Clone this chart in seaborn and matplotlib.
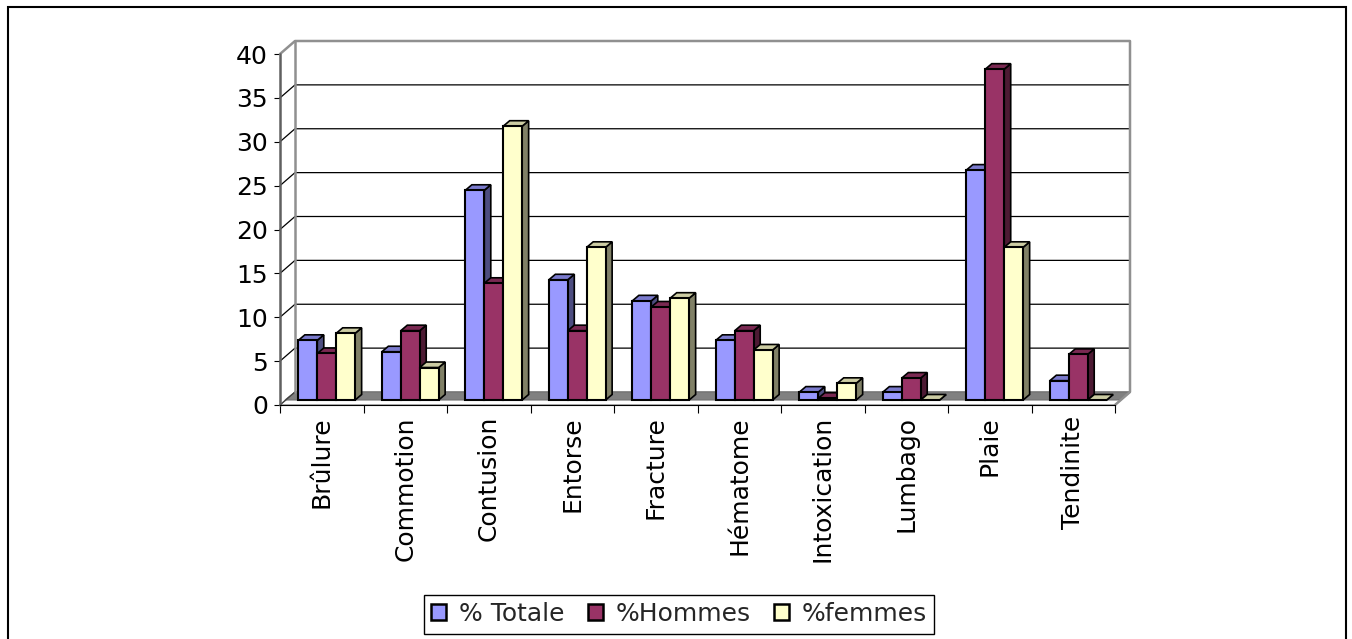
import numpy as np
import pandas as pd
import seaborn as sns
import matplotlib
matplotlib.use("Agg")
import matplotlib.pyplot as plt
from matplotlib.patches import Polygon, Rectangle, Patch
from matplotlib.lines import Line2D
from matplotlib.transforms import IdentityTransform, offset_copy
import matplotlib.colors as mcolors

categories = ["Brûlure", "Commotion", "Contusion", "Entorse", "Fracture",
              "Hématome", "Intoxication", "Lumbago", "Plaie", "Tendinite"]
totale = [6.8, 5.5, 23.9, 13.7, 11.3, 6.8, 0.9, 0.9, 26.2, 2.2]
hommes = [5.3, 7.9, 13.3, 7.9, 10.6, 7.9, 0.2, 2.5, 37.7, 5.2]
femmes = [7.6, 3.7, 31.2, 17.4, 11.6, 5.7, 1.9, 0.0, 17.4, 0.0]
series = ["% Totale", "%Hommes", "%femmes"]
colors = ["#9999FF", "#993366", "#FFFFCC"]
yticks = [0, 5, 10, 15, 20, 25, 30, 35, 40]

sns.set_style("white")
plt.rcParams["font.family"] = ["DejaVu Sans"]

W, H = 1352, 639
fig = plt.figure(figsize=(W / 100, H / 100), dpi=100)
fig.patch.set_facecolor("white")

# front plane of the 3D box (pixels, image coords)
X0, X1, YB, YT = 280, 1115, 405, 54
ax = fig.add_axes([X0 / W, 1 - YB / H, (X1 - X0) / W, (YB - YT) / H])
ax.set_facecolor("none")

df = pd.DataFrame({
    "cat": np.repeat(categories, 3),
    "serie": series * len(categories),
    "val": np.ravel(np.column_stack([totale, hommes, femmes])),
})

sns.barplot(data=df, x="cat", y="val", hue="serie", hue_order=series,
            palette=colors, saturation=1, width=0.68, gap=0,
            edgecolor="black", linewidth=1.5, legend=False, ax=ax)

ax.set_xlim(-0.5, len(categories) - 0.5)
ax.set_ylim(0, 40)
ax.set_yticks(yticks)
ax.set_yticklabels([str(v) for v in yticks])
ax.set_xticks(range(len(categories)))
ax.set_xticklabels(categories, rotation=90)
ax.set_xticks(np.arange(-0.5, len(categories), 1), minor=True)
ax.set_xlabel("")
ax.set_ylabel("")
ax.tick_params(axis="y", which="major", length=4.3, width=0.8, color="black",
               pad=4.5, labelsize=18, direction="out", left=True, labelcolor="black")
ax.tick_params(axis="x", which="major", length=0, pad=8, labelsize=18, labelcolor="black")
ax.tick_params(axis="x", which="minor", length=5.8, width=0.8, color="black",
               direction="out", bottom=True)
for s in ["top", "right"]:
    ax.spines[s].set_visible(False)
ax.spines["left"].set_visible(False)
ax.spines["bottom"].set_color("black")
ax.spines["bottom"].set_linewidth(0.8)
ax.grid(False)

fig.canvas.draw()
T = ax.transData
ID = IdentityTransform()

WX, WY = 15, 13        # wall depth (display px, y up)
FX, FY = 5, 5          # bar front offset
DX, DY = 6.5, 5.5      # bar depth


def add_poly(verts, **kw):
    p = Polygon(verts, closed=True, transform=ID, clip_on=False, **kw)
    ax.add_artist(p)
    return p


def add_line(xs, ys, **kw):
    ln = Line2D(xs, ys, transform=ID, clip_on=False, **kw)
    ax.add_artist(ln)
    return ln


(px0, py0) = T.transform((-0.5, 0))
(px1, py1) = T.transform((len(categories) - 0.5, 40))

# back wall
add_poly([(px0 + WX, py0 + WY), (px1 + WX, py0 + WY), (px1 + WX, py1 + WY), (px0 + WX, py1 + WY)],
         facecolor="white", edgecolor="none", zorder=0.5)
# gridlines
for v in yticks[1:-1]:
    _, py = T.transform((0, v))
    add_line([px0, px0 + WX, px1 + WX], [py, py + WY, py + WY], color="black", lw=0.9, zorder=0.8)
# floor outline + gray floor band
add_poly([(px0, py0), (px1, py0), (px1 + WX, py0 + WY), (px0 + WX, py0 + WY)],
         facecolor="white", edgecolor="#808080", lw=0.9, zorder=0.9)
add_poly([(px0 + FX, py0 + FY), (px1 + FX, py0 + FY), (px1 + WX, py0 + WY), (px0 + WX, py0 + WY)],
         facecolor="#808080", edgecolor="#707070", lw=0.8, zorder=1)
add_line([px0, px0 + WX], [py0, py0 + WY], color="#404040", lw=0.9, zorder=1.1)
# wall borders
add_line([px0 + WX, px0 + WX], [py0 + WY, py1 + WY], color="#909090", lw=1.8, zorder=1.2)
add_line([px0, px0 + WX, px1 + WX, px1 + WX, px1], [py1, py1 + WY, py1 + WY, py0 + WY, py0],
         color="#909090", lw=1.8, zorder=1.2)
add_line([px0, px0], [py0, py1], color="#606060", lw=1.8, zorder=1.3)

# 3D bars
front_tr = offset_copy(T, fig=fig, x=FX, y=FY, units="dots")
for i, cont in enumerate(ax.containers):
    base = mcolors.to_rgb(colors[i])
    side_c = tuple(c * 0.5 for c in base)
    top_c = tuple(c * 0.8 for c in base)
    z = 3 + i
    for p in cont:
        x, w, h = p.get_x(), p.get_width(), p.get_height()
        xl, yb = T.transform((x, 0))
        xr, yt = T.transform((x + w, h))
        xl += FX; xr += FX; yb += FY; yt += FY
        add_poly([(xr, yb), (xr, yt), (xr + DX, yt + DY), (xr + DX, yb + DY)],
                 facecolor=side_c, edgecolor="black", lw=1.2, zorder=z)
        add_poly([(xl, yt), (xr, yt), (xr + DX, yt + DY), (xl + DX, yt + DY)],
                 facecolor=top_c, edgecolor="black", lw=1.2, zorder=z + 0.1)
        p.set_transform(front_tr)
        p.set_zorder(z + 0.2)
        p.set_clip_on(False)

# legend
handles = [Patch(facecolor=c, edgecolor="black", lw=1.8) for c in colors]
leg = fig.legend(handles, series, loc="center", bbox_to_anchor=(679 / W, 1 - 614 / H),
                 ncol=3, frameon=True, fancybox=False, edgecolor="black", framealpha=1,
                 fontsize=18, handlelength=0.6, handleheight=0.6, handletextpad=0.5,
                 columnspacing=0.95, borderpad=0.3, borderaxespad=0)
leg.get_frame().set_linewidth(1)

# outer border
fig.add_artist(Rectangle((8 / W, -0.1), (1346 - 8) / W, 1.1 - 7 / H, fill=False,
                         edgecolor="black", lw=1.5, transform=fig.transFigure, zorder=0))

fig.savefig("out.png", dpi=100)
